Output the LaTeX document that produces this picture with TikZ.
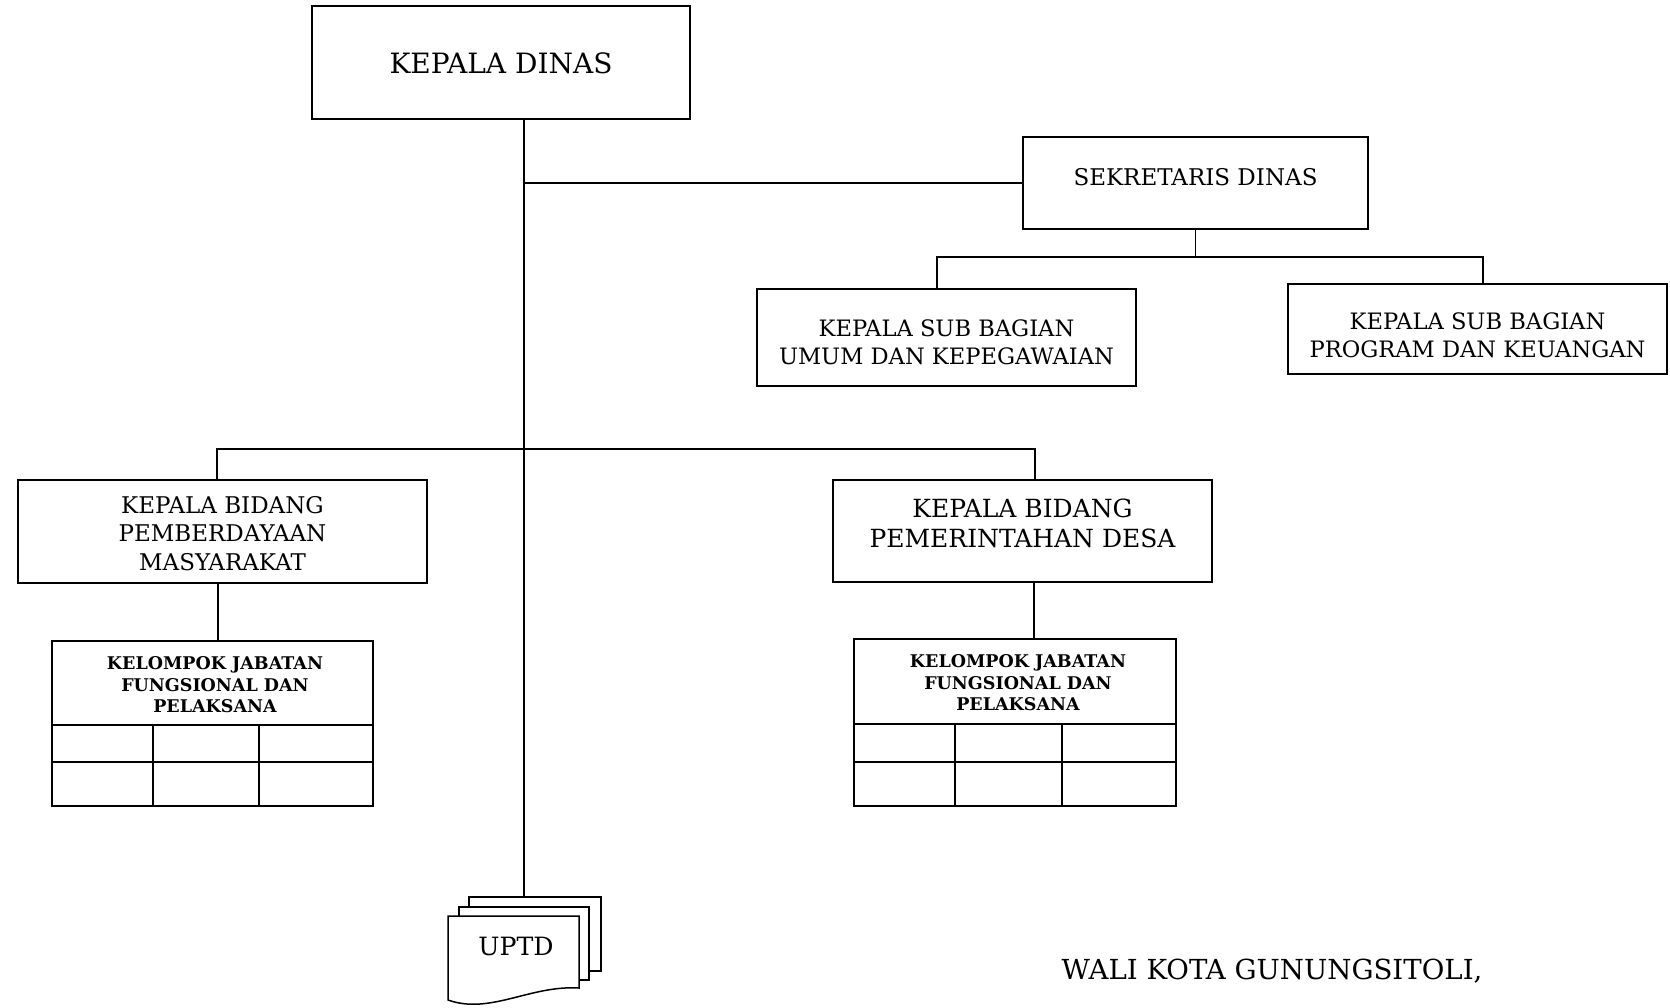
\documentclass[tikz,border=0pt]{standalone}
\usepackage{fontspec}
\setmainfont{DejaVu Serif}
\begin{document}
\begin{tikzpicture}[x=1pt,y=-1pt,line width=1.5pt,
  box/.style={draw,rectangle,inner sep=0pt},
  txt/.style={align=center,inner sep=0pt},
  fkd/.style={font=\fontsize{28}{33}\selectfont},
  fsek/.style={font=\fontsize{23}{28}\selectfont},
  fsub/.style={font=\fontsize{22.6}{28}\selectfont},
  fbl/.style={font=\fontsize{23}{28.5}\selectfont},
  fbr/.style={font=\fontsize{25}{30}\selectfont},
  fkel/.style={font=\bfseries\fontsize{17.5}{21.5}\selectfont},
  fupt/.style={font=\fontsize{25.2}{30}\selectfont},
  fwali/.style={font=\fontsize{27.6}{33}\selectfont}]
\useasboundingbox (0,0) rectangle (1670,1008);

% boxes
\node[box,minimum width=378,minimum height=113] (kd) at (501,62.5) {};
\node[txt,fkd] (kdt) at (501,63) {KEPALA DINAS};

\node[box,minimum width=345,minimum height=92] (sek) at (1195.5,183) {};
\node[txt,fsek] (sekt) at (1195.5,177) {SEKRETARIS DINAS};

\node[box,minimum width=379,minimum height=97] (umum) at (946.5,337.5) {};
\node[txt,fsub] (umumt) at (946.5,342.5) {KEPALA SUB BAGIAN\\UMUM DAN KEPEGAWAIAN};

\node[box,minimum width=379,minimum height=90] (prog) at (1477.5,329) {};
\node[txt,fsub] (progt) at (1477.5,335) {KEPALA SUB BAGIAN\\PROGRAM DAN KEUANGAN};

\node[box,minimum width=409,minimum height=103] (bl) at (222.5,531.5) {};
\node[txt,fbl] (blt) at (222.5,533.5) {KEPALA BIDANG\\PEMBERDAYAAN\\MASYARAKAT};

\node[box,minimum width=379,minimum height=102] (br) at (1022.5,531) {};
\node[txt,fbr] (brt) at (1022.5,523) {KEPALA BIDANG\\PEMERINTAHAN DESA};

% functional groups (tables)
\node[box,minimum width=321,minimum height=165] (kjl) at (212.5,723.5) {};
\node[txt,fkel] (kjlt) at (215,685) {KELOMPOK JABATAN\\FUNGSIONAL DAN\\PELAKSANA};
\draw (52,725) -- (373,725) (52,762) -- (373,762)
      (153,725) -- (153,806) (259,725) -- (259,806);

\node[box,minimum width=322,minimum height=167] (kjr) at (1015,722.5) {};
\node[txt,fkel] (kjrt) at (1018,683) {KELOMPOK JABATAN\\FUNGSIONAL DAN\\PELAKSANA};
\draw (854,724) -- (1176,724) (854,762) -- (1176,762)
      (955,724) -- (955,806) (1062,724) -- (1062,806);

% UPTD stacked documents
\draw[fill=white] (469,897) rectangle (601,971);
\draw[fill=white] (459,907) rectangle (589,980);
\draw[fill=white] (448,916) -- (579,916) -- (579,988)
   .. controls (530,985) and (490,1015) .. (448,1000) -- cycle;
\node[txt,fupt] (uptd) at (516,946) {UPTD};
\coordinate (uptdtop) at (524,897);

% connectors
\draw (kd.south -| uptdtop) -- (uptdtop);
\draw (sek.west) -- (sek.west -| uptdtop);

\coordinate (sbl) at (937,257);
\coordinate (sbr) at (1483,257);
\draw (sek.south) -- (sek.south |- sbl);
\draw (umum.north -| sbl) -- (sbl) -- (sbr) -- (prog.north -| sbr);

\coordinate (bdl) at (217,449);
\coordinate (bdr) at (1035,449);
\draw (bl.north -| bdl) -- (bdl) -- (bdr) -- (br.north -| bdr);

\draw (bl.south -| 218,0) -- (kjl.north -| 218,0);
\draw (br.south -| 1034,0) -- (kjr.north -| 1034,0);

% signature line
\node[txt,fwali,anchor=base] (wali) at (1272,979) {WALI KOTA GUNUNGSITOLI,};
\end{tikzpicture}
\end{document}
